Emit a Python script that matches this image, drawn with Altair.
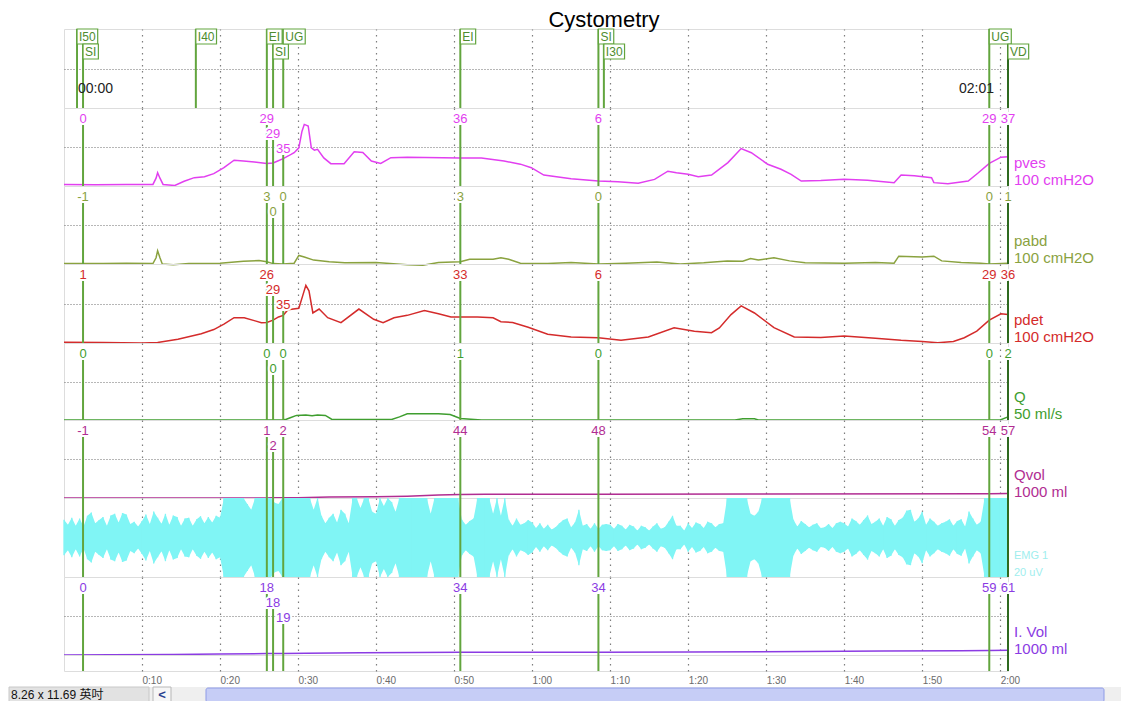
import altair as alt
import pandas as pd

FONT = "Liberation Sans"
T_MAX = 121.0
W = 944
PX = W / T_MAX

# ---------------- data ----------------
title_text = "Cystometry"
start_lbl = "00:00"
end_lbl = "02:01"

event_t = [1.67, 2.44, 16.9, 26.0, 26.8, 28.1, 50.8, 68.5, 69.2, 118.6, 121.0]
event_lbl = ["I50", "SI", "I40", "EI", "SI", "UG", "EI", "SI", "I30", "UG", "VD"]

cursor_t = [2.44, 26.0, 26.8, 28.1, 50.8, 68.5, 118.6, 121.0]
pves_cursor = [0, 29, 29, 35, 36, 6, 29, 37]
pabd_cursor = [-1, 3, 0, 0, 3, 0, 0, 1]
pdet_cursor = [1, 26, 29, 35, 33, 6, 29, 36]
q_cursor = [0, 0, 0, 0, 1, 0, 0, 2]
qvol_cursor = [-1, 1, 2, 2, 44, 48, 54, 57]
ivol_cursor = [0, 18, 18, 19, 34, 34, 59, 61]

pves_t = [0, 4, 8, 11.4, 11.8, 12.0, 12.3, 12.7, 14.2, 15.4, 16.7, 18.0, 19.2, 20.5,
          21.8, 23.0, 24.4, 26.0, 26.8, 27.4, 28.1, 29.5, 30.1, 30.5, 30.8, 31.3, 31.7,
          32.1, 32.5, 33.3, 34.2, 35.9, 37.2, 38.3, 39.4, 40.6, 41.9, 44.0, 50.8, 53.5,
          56.4, 58.5, 59.9, 61.5, 65.0, 68.5, 71.0, 73.6, 75.7, 77.4, 78.5, 80.0, 81.3,
          83.0, 85.1, 86.8, 88.1, 90.2, 91.9, 93.2, 94.5, 97.0, 100.0, 103.0, 106.4,
          107.3, 109.0, 111.2, 111.5, 113.3, 115.9, 117.2, 118.6, 120.1, 121.0]
pves_v = [2, 1.5, 2, 2, 10, 17, 10, 2, 0.7, 6, 10.7, 12, 15.8, 23.5,
          33, 32, 30.8, 29, 29.5, 32, 35, 42.7, 49, 70, 79, 77, 49,
          46, 47, 36, 28.6, 28.6, 44, 43, 32, 29, 36.3, 37, 36, 36,
          32, 28, 23.5, 14, 9.4, 6.4, 5.5, 3.4, 8.5, 19, 17, 15, 12,
          14, 30, 48, 42.7, 27.8, 21.4, 15, 6.4, 7, 8.5, 7.5, 4.3,
          14, 13, 10.7, 4.3, 3, 6.4, 17, 29, 37, 37.5]

pabd_t = [0, 5, 8, 11.4, 11.8, 12.0, 12.3, 12.6, 14, 16, 20, 23, 25, 26, 26.8, 28.1,
          29.5, 30.1, 30.8, 32, 34, 36, 40, 44, 46, 48, 50.8, 52, 55, 56, 57, 58.5,
          62, 65, 68.5, 72, 76, 79, 82, 85, 87, 88, 89, 91, 93, 95, 100, 104, 106.4,
          107, 110, 111.5, 112.5, 115, 117.5, 118.6, 121]
pabd_v = [0.5, 0.5, 1, 0.5, 8, 17, 8, 0, -1, 0.5, 1, 3.5, 4.5, 3, 0.5, 0,
          1, 11, 9, 5, 3, 1.5, 2, -1, -1.5, 2, 3, 6, 6, 8, 6, 1,
          0.5, 2, 0, 1, 2.5, 0, 1.5, 4, 3.5, 7, 5, 8, 4, 1.5, 1, 2, 1,
          10, 9, 10, 4, 2, 1, 0, 1]

pdet_t = [0, 5, 10, 12, 14.6, 17.6, 19.2, 20.5, 21.8, 23.1, 24.5, 25.3, 26.0, 26.8,
          27.5, 28.1, 28.7, 30.1, 30.6, 31.0, 31.4, 31.9, 32.7, 33.8, 35.5, 37.8, 39.7,
          40.9, 42.3, 44, 46.2, 48, 49.6, 50.8, 53, 55, 56, 57.5, 59.5, 62, 65, 68.5,
          71.4, 74.9, 78.2, 80.8, 83, 84, 85.5, 86.8, 88.5, 91, 93.6, 97, 100, 104,
          107.3, 110, 112, 114, 115.4, 117, 118.6, 120.1, 121]
pdet_v = [1, 0.5, 0, 0.5, 4.7, 11.8, 17, 24, 32, 32, 28, 25.7, 26, 29,
          33, 35, 42, 44, 60, 73, 66, 38, 43, 32, 25.7, 43, 30,
          25.7, 32, 35, 41, 37, 33, 33, 33, 32, 27, 26, 20, 11, 7.6, 6.7,
          3.4, 7.6, 19.4, 15, 13, 19, 36, 47, 38, 19.4, 7.6, 7, 8.9, 6,
          3.4, 2, 0.4, 2, 6.7, 15, 29, 37, 36]

q_t = [0, 28, 28.5, 29, 29.8, 31, 31.8, 32.5, 33.5, 34.3, 35, 42, 43, 44, 48, 49.5,
       50.8, 53.5, 86, 87, 88.5, 89, 120, 121]
q_v = [0, 0, 0.5, 1.5, 3, 3.2, 2.7, 3.2, 3, 0.5, 0.3, 0.3, 2, 4, 4, 3.5,
       1, 0, 0, 0.8, 0.8, 0, 0, 2]

qvol_t = [0, 26, 26.8, 28.1, 30, 34, 40, 44, 48, 50.8, 54, 68.5, 88, 89, 118.6, 121]
qvol_v = [-1, 1, 2, 2, 3, 12, 16, 24, 38, 44, 47, 48, 50, 51, 54, 57]

ivol_t = [0, 6, 14, 20, 26, 26.8, 28.1, 31, 38, 45, 50.8, 68.5, 80, 95, 105, 115, 118.6, 121]
ivol_v = [0, 3, 8, 12, 18, 18, 19, 22, 28, 31, 34, 34, 40, 45, 50, 56, 59, 61]

# EMG envelope amplitude (uV, half of the 20 uV range) sampled every 0.5 s
emg_amp = (
    [4.5, 3.2, 5.0, 3.0, 4.8, 2.8, 5.5, 6.3, 3.6, 4.4, 5.2, 3.0, 5.6, 6.0, 3.8, 6.2, 5.8, 3.4, 4.0, 2.8]
    + [4.2, 5.8, 3.4, 6.6, 5.0, 3.5, 6.0, 3.2, 5.6, 5.2, 3.0, 4.8, 5.0, 3.0, 4.6, 5.4, 3.6, 5.2, 3.8, 5.5]
    + [5.0, 10, 10, 10, 10, 10, 10, 8.5, 7.0, 10, 10, 10, 10, 10, 8.8, 8.5, 10, 10, 10, 10]
    + [10, 10, 10, 10, 7.0, 10, 5.5, 3.6, 5.0, 6.0, 3.8, 7.0, 6.0, 3.6, 10, 10, 7.5, 10, 10, 6.5]
    + [6.0, 10, 8.0, 10, 9.0, 6.5, 10, 10, 10, 10, 10, 10, 10, 10, 6.0, 10, 10, 10, 10, 10]
    + [10, 10, 4.5, 3.2, 4.2, 4.8, 10, 10, 10, 10, 6.0, 10, 5.5, 10, 4.5, 3.0, 4.8, 3.2, 3.6, 4.4]
    + [3.8, 2.4, 3.6, 2.2, 3.2, 2.0, 2.6, 3.6, 4.4, 4.8, 2.6, 3.8, 7.0, 3.0, 3.4, 2.2, 3.6, 2.2, 3.2, 3.4]
    + [3.2, 2.2, 3.4, 3.0, 2.0, 3.2, 2.8, 1.8, 3.0, 2.6, 1.8, 2.8, 3.6, 2.2, 2.6, 4.0, 5.5, 3.0, 3.0, 1.8]
    + [3.6, 2.4, 3.8, 3.4, 2.4, 4.0, 3.6, 2.6, 3.4, 3.6, 10, 10, 10, 10, 10, 10, 6.0, 5.5, 6.5, 10]
    + [10, 10, 10, 10, 10, 10, 10, 4.5, 2.8, 4.2, 3.4, 2.6, 3.2, 3.6, 2.4, 2.6, 3.4, 2.4, 3.6, 4.0]
    + [3.6, 2.8, 4.8, 4.2, 3.2, 4.4, 5.6, 3.4, 4.0, 4.8, 3.0, 5.2, 4.6, 3.0, 4.4, 5.0, 6.8, 7.0, 4.0, 4.8]
    + [6.5, 3.2, 4.8, 4.0, 3.0, 3.6, 4.0, 4.6, 3.0, 4.2, 4.6, 2.8, 6.6, 4.8, 3.2, 4.0, 10, 10, 10, 10]
    + [10, 10, 10]
)
EMG_STEP = 0.5

status_text = "8.26 x 11.69 英吋"

for a, b in [(pves_t, pves_v), (pabd_t, pabd_v), (pdet_t, pdet_v), (q_t, q_v),
             (qvol_t, qvol_v), (ivol_t, ivol_v)]:
    assert len(a) == len(b), (len(a), len(b))

# ---------------- styles ----------------
PVES = "#e23ff0"
PABD = "#8aa23f"
PDET = "#d42b2b"
QCOL = "#3f9e2f"
QVOL = "#b12d92"
EMGC = "#80f5f5"
EMGL = "#a0eeee"
IVOL = "#8b3be3"
EVT = "#62a53e"
EVT_DARK = "#2f6a20"
EVT_TEXT = "#4e8c2f"
ROW = 15

CW12 = {"I": 3.33, "S": 8.0, "E": 8.0, "U": 8.67, "G": 9.33, "V": 8.0, "D": 8.67}


def w12(s):
    return sum(CW12.get(ch, 6.67) for ch in s)


def w13(s):
    return sum(4.33 if ch == "-" else 7.23 for ch in s)


def rows_for(spans, gap):
    rows, ends = [], {}
    for left, right in spans:
        r = 1
        while r in ends and ends[r] + gap > left:
            r += 1
        ends[r] = right
        rows.append(r)
    return rows


cursor_col = [EVT_DARK if t >= T_MAX else EVT for t in cursor_t]


def xenc(labels=False):
    return alt.X(
        "t:Q",
        scale=alt.Scale(domain=[0, T_MAX], nice=False, zero=False),
        axis=alt.Axis(
            values=list(range(10, 121, 10)), grid=True, gridDash=[1.5, 4.5],
            gridColor="#7d7d7d", gridWidth=1.2, ticks=False, domain=False,
            labels=labels, title=None, labelAlign="left", labelFont=FONT,
            labelFontSize=10, labelColor="#6b6b6b", labelPadding=4,
            labelExpr="floor(datum.value / 60) + ':' + (datum.value % 60 < 10 ? '0' : '') + (datum.value % 60)",
        ),
    )


def yenc(field, lo, hi, reverse=False):
    return alt.Y(
        field, type="quantitative",
        scale=alt.Scale(domain=[lo, hi], nice=False, zero=False, reverse=reverse),
        axis=alt.Axis(values=[(lo + hi) / 2], grid=True, gridDash=[1, 2], gridColor="#6f6f6f",
                      gridWidth=1, ticks=False, domain=False, labels=False, title=None),
    )


def side_labels(name, unit, color, lo, size=15):
    one = pd.DataFrame({"s": [name], "u": [unit]})
    a = alt.Chart(one).mark_text(align="left", baseline="alphabetic", dx=6, dy=-18, font=FONT,
                                 fontSize=size, color=color).encode(x=alt.datum(T_MAX), y=alt.datum(lo), text="s:N")
    b = alt.Chart(one).mark_text(align="left", baseline="alphabetic", dx=6, dy=-1, font=FONT,
                                 fontSize=size, color=color).encode(x=alt.datum(T_MAX), y=alt.datum(lo), text="u:N")
    return [a, b]


def channel_panel(ts, vs, lo, hi, cvals, color, lcolor, name, unit, height):
    df = pd.DataFrame({"t": ts, "v": vs})
    layers = [alt.Chart(df).mark_line(color=color, strokeWidth=1.5).encode(x=xenc(), y=yenc("v", lo, hi))]
    lbls = [str(v) for v in cvals]
    spans = [(t * PX - w13(s) / 2, t * PX + w13(s) / 2) for t, s in zip(cursor_t, lbls)]
    rows = rows_for(spans, 3)
    cdf = pd.DataFrame({"t": cursor_t, "lbl": lbls, "row": rows, "c": cursor_col})
    rset = sorted(set(rows))
    for r in rset:
        sub = cdf[cdf.row == r]
        layers.append(alt.Chart(sub).mark_rule(strokeWidth=2, y2Offset=ROW * r + 2).encode(
            x=xenc(), y=alt.datum(lo), y2=alt.datum(hi), color=alt.Color("c:N", scale=None)))
    for halo in (True, False):
        for r in rset:
            sub = cdf[cdf.row == r]
            props = dict(font=FONT, fontSize=13, align="center", baseline="alphabetic", dy=ROW * r)
            if halo:
                m = alt.Chart(sub).mark_text(color="white", stroke="white", strokeWidth=4, **props)
            else:
                m = alt.Chart(sub).mark_text(color=lcolor, **props)
            layers.append(m.encode(x=xenc(), y=alt.datum(hi), text="lbl:N"))
    layers += side_labels(name, unit, lcolor, lo)
    return alt.layer(*layers).properties(width=W, height=height)


# ---------------- event panel ----------------
EH = 79
ev_w = [w12(s) + 4 for s in event_lbl]
ev_rows = rows_for([(t * PX, t * PX + w) for t, w in zip(event_t, ev_w)], 0)
edf = pd.DataFrame({
    "t": event_t, "lbl": event_lbl,
    "x2": [t + w / PX for t, w in zip(event_t, ev_w)],
    "ytop": [(r - 1) * ROW for r in ev_rows],
    "ybot": [r * ROW for r in ev_rows],
    "ymid": [(r - 0.5) * ROW for r in ev_rows],
    "c": [EVT_DARK if l == "VD" else EVT for l in event_lbl],
})
one = pd.DataFrame({"a": [start_lbl], "b": [end_lbl], "h": [title_text]})
event_panel = alt.layer(
    alt.Chart(edf).mark_rule(strokeWidth=2).encode(
        x=xenc(), y=alt.datum(0), y2=alt.datum(EH), color=alt.Color("c:N", scale=None)),
    alt.Chart(edf).mark_rect(fill="white", stroke=EVT, strokeWidth=1.2).encode(
        x=xenc(), x2="x2:Q", y=yenc("ytop", 0, EH, True), y2="ybot:Q"),
    alt.Chart(edf).mark_text(align="left", baseline="middle", dx=2, dy=0.5, font=FONT, fontSize=12,
                             color=EVT_TEXT).encode(x=xenc(), y=yenc("ymid", 0, EH, True), text="lbl:N"),
    alt.Chart(one).mark_text(align="left", baseline="alphabetic", dx=1, font=FONT, fontSize=14,
                             color="#222222").encode(x=alt.datum(event_t[0]), y=alt.datum(64), text="a:N"),
    alt.Chart(one).mark_text(align="right", baseline="alphabetic", dx=-14, font=FONT, fontSize=14,
                             color="#222222").encode(x=alt.datum(T_MAX), y=alt.datum(64), text="b:N"),
    alt.Chart(one).mark_text(align="center", baseline="alphabetic", font=FONT, fontSize=22,
                             color="black").encode(x=alt.value(540), y=alt.value(-2.5), text="h:N"),
).properties(width=W, height=EH)

pves_panel = channel_panel(pves_t, pves_v, 0, 100, pves_cursor, PVES, PVES, "pves", "100 cmH2O", 78)
pabd_panel = channel_panel(pabd_t, pabd_v, 0, 100, pabd_cursor, PABD, PABD, "pabd", "100 cmH2O", 78)
pdet_panel = channel_panel(pdet_t, pdet_v, 0, 100, pdet_cursor, PDET, PDET, "pdet", "100 cmH2O", 79)
q_panel = channel_panel(q_t, q_v, 0, 50, q_cursor, QCOL, QCOL, "Q", "50 ml/s", 77)
qvol_panel = channel_panel(qvol_t, qvol_v, 0, 1000, qvol_cursor, QVOL, QVOL, "Qvol", "1000 ml", 78)
ivol_panel = channel_panel(ivol_t, ivol_v, 0, 1000, ivol_cursor, IVOL, IVOL, "I. Vol", "1000 ml", 78)

# ---------------- EMG panel ----------------
emg_df = pd.DataFrame({"t": [i * EMG_STEP for i in range(len(emg_amp))], "a": emg_amp})
cur_df = pd.DataFrame({"t": cursor_t, "c": cursor_col})
emg_panel = alt.layer(
    alt.Chart(emg_df).transform_calculate(lo="-datum.a").mark_area(
        color=EMGC, opacity=1, interpolate="linear").encode(
        x=xenc(), y=yenc("lo", -10, 10), y2="a:Q"),
    alt.Chart(emg_df).transform_calculate(lo="-datum.a").mark_rule(color=EMGC, strokeWidth=1.3).encode(
        x=xenc(), y=yenc("lo", -10, 10), y2="a:Q"),
    alt.Chart(cur_df).mark_rule(strokeWidth=2).encode(
        x=xenc(), y=alt.datum(-10), y2=alt.datum(10), color=alt.Color("c:N", scale=None)),
    *side_labels("EMG 1", "20 uV", EMGL, -10, size=11),
).properties(width=W, height=79)

# ---------------- bottom strip with time axis + status bar ----------------
SH = 16
sb = pd.DataFrame({"s": [status_text], "k": ["<"]})
strip = alt.layer(
    alt.Chart(cur_df).mark_rule(strokeWidth=2).encode(
        x=xenc(True), y=alt.value(0), y2=alt.value(SH), color=alt.Color("c:N", scale=None)),
    alt.Chart(sb).mark_rect(fill="#efefef").encode(
        x=alt.value(-55), x2=alt.value(1057), y=alt.value(32), y2=alt.value(47)),
    alt.Chart(sb).mark_rect(fill="#e2e2e2", stroke="#c8c8c8").encode(
        x=alt.value(-55), x2=alt.value(85), y=alt.value(32), y2=alt.value(47)),
    alt.Chart(sb).mark_text(align="left", baseline="alphabetic", font="Liberation Sans, Noto Sans CJK TC",
                            fontSize=12, color="#111111").encode(x=alt.value(-53), y=alt.value(44), text="s:N"),
    alt.Chart(sb).mark_rect(fill="#f6f6f6", stroke="#b8b8b8").encode(
        x=alt.value(89), x2=alt.value(107), y=alt.value(32), y2=alt.value(47)),
    alt.Chart(sb).mark_text(align="center", baseline="alphabetic", font=FONT, fontSize=13, fontWeight="bold",
                            color="#27408f").encode(x=alt.value(98), y=alt.value(44), text="k:N"),
    alt.Chart(sb).mark_rect(fill="#c6cdf6", stroke="#8e9be6", cornerRadius=2).encode(
        x=alt.value(142), x2=alt.value(1040), y=alt.value(33), y2=alt.value(47)),
).properties(width=W, height=SH)

chart = alt.vconcat(
    event_panel, pves_panel, pabd_panel, pdet_panel, q_panel, qvol_panel, emg_panel, ivol_panel, strip,
    spacing=0, bounds="flush", padding=0,
).configure_view(stroke="#8c8c8c", strokeWidth=2).configure(background="white")

chart.save("out.html", embed_options={"renderer": "svg", "actions": False})
